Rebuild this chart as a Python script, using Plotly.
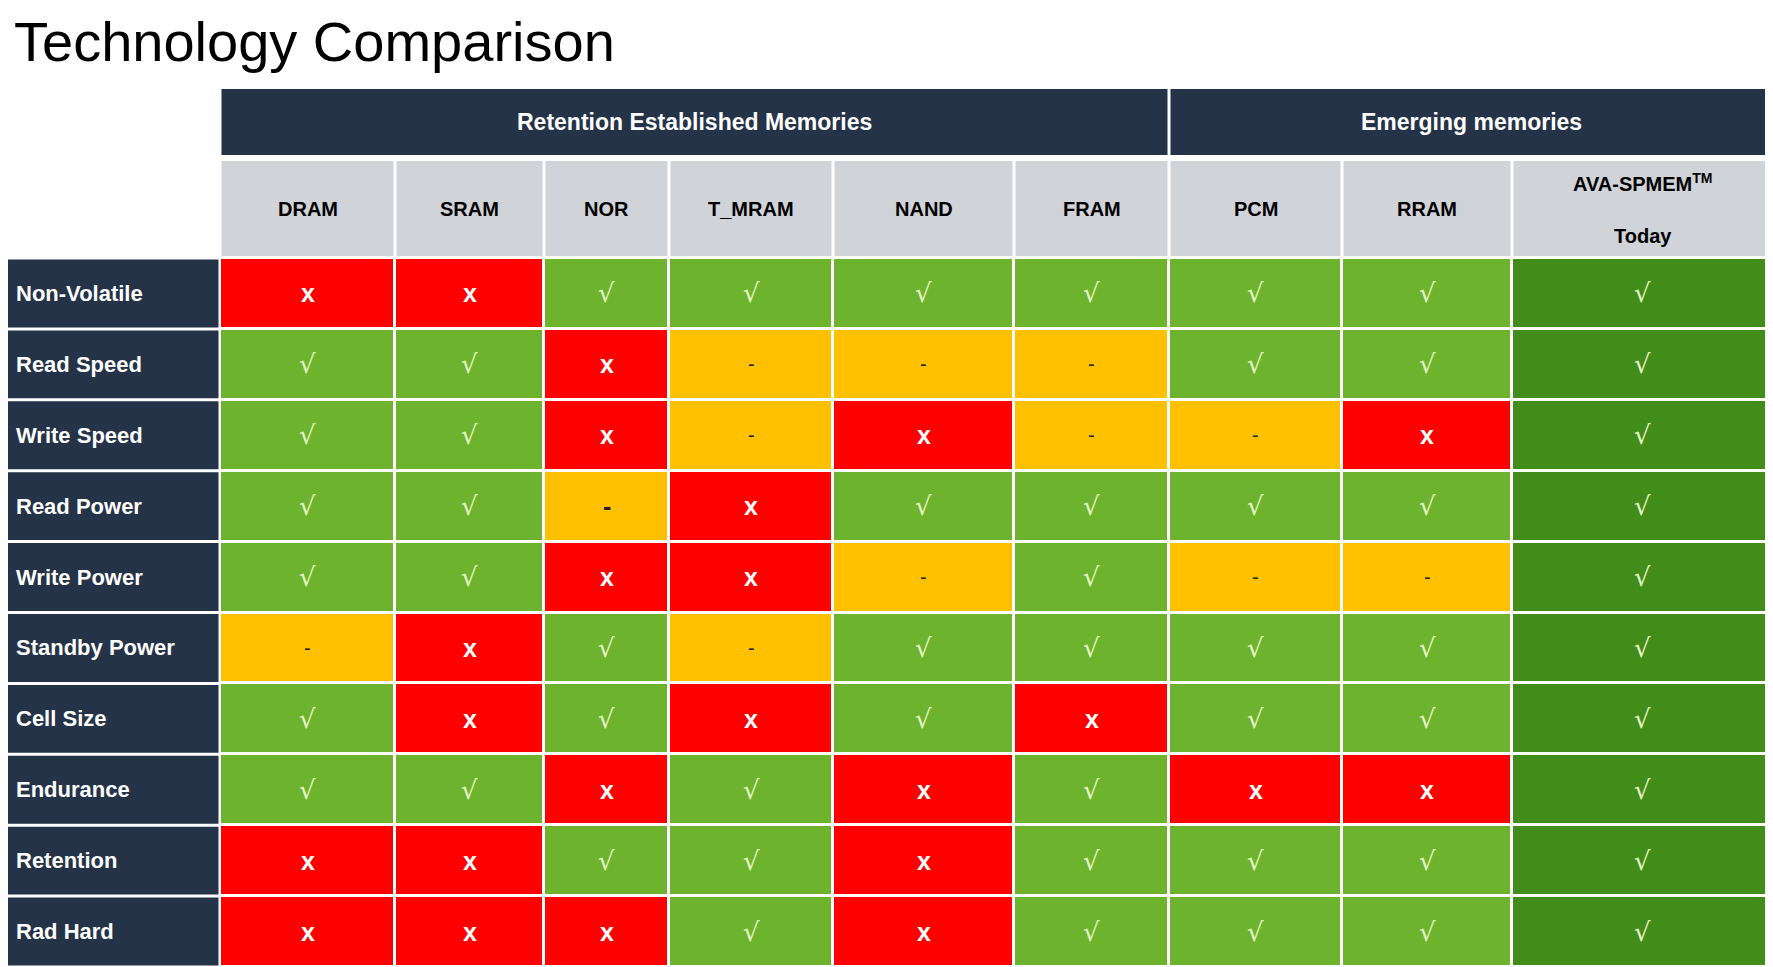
import plotly.graph_objects as go

# table content
groups = ["Retention Established Memories", "Emerging memories"]
group_span = [(0, 6), (6, 9)]
techs = ["DRAM", "SRAM", "NOR", "T_MRAM", "NAND", "FRAM", "PCM", "RRAM",
         "AVA-SPMEM<sup>TM</sup><br><br>Today"]
features = ["Non-Volatile", "Read Speed", "Write Speed", "Read Power", "Write Power",
            "Standby Power", "Cell Size", "Endurance", "Retention", "Rad Hard"]
# x = bad, - = partial, v = good
grid = [
    "xxvvvvvvv",
    "vvx---vvv",
    "vvx-x--xv",
    "vv-xvvvvv",
    "vvxx-v--v",
    "-xv-vvvvv",
    "vxvxvxvvv",
    "vvxvxvxxv",
    "xxvvxvvvv",
    "xxxvxvvvv",
]

# layout geometry (page pixels)
W, H = 1773, 967
OFF = 8  # page body margin
col_edges = [0, 220, 395, 544, 669, 833, 1014, 1169, 1342, 1512, 1773]
row_edges = [258 + i * 70.9 for i in range(11)]
hdr1 = (89, 155)
hdr2 = (161, 256)

RED, ORANGE, GREEN, DKGREEN = "#FF0000", "#FFC000", "#6DB32D", "#428C1A"
NAVY, GREY = "#253348", "#D0D3D8"

code = {"x": 0, "-": 1, "v": 2}
z = []
for row in grid:
    vals = [code[c] for c in row]
    vals[-1] = 3 if row[-1] == "v" else vals[-1]
    z.append(vals)

fig = go.Figure(go.Heatmap(
    x=col_edges[1:], y=row_edges, z=z,
    zmin=0, zmax=3, showscale=False, hoverinfo="skip",
    colorscale=[[0, RED], [0.25, RED], [0.25, ORANGE], [0.5, ORANGE],
                [0.5, GREEN], [0.75, GREEN], [0.75, DKGREEN], [1, DKGREEN]],
    xgap=3, ygap=3,
))

font = "Liberation Sans, Arial, sans-serif"
g = 1.5
shapes, ann = [], []

# row labels
for i, f in enumerate(features):
    y0, y1 = row_edges[i], row_edges[i + 1]
    shapes.append(dict(type="rect", x0=-20, x1=col_edges[1] - g, y0=y0 + g, y1=y1 - g,
                       fillcolor=NAVY, line_width=0, layer="below"))
    ann.append(dict(x=14, y=(y0 + y1) / 2, text=f, xanchor="left", showarrow=False,
                    font=dict(family=font, size=22, color="white", weight="bold")))

# group headers
for name, (a, b) in zip(groups, group_span):
    x0, x1 = col_edges[a + 1], col_edges[b + 1]
    shapes.append(dict(type="rect", x0=x0 + g, x1=x1 - g, y0=hdr1[0], y1=hdr1[1],
                       fillcolor=NAVY, line_width=0, layer="below"))
    ann.append(dict(x=(x0 + x1) / 2, y=sum(hdr1) / 2, text=name, showarrow=False,
                    font=dict(family=font, size=23, color="white", weight="bold")))

# column headers
for j, t in enumerate(techs):
    x0, x1 = col_edges[j + 1], col_edges[j + 2]
    shapes.append(dict(type="rect", x0=x0 + g, x1=x1 - g, y0=hdr2[0], y1=hdr2[1],
                       fillcolor=GREY, line_width=0, layer="below"))
    ann.append(dict(x=(x0 + x1) / 2, y=sum(hdr2) / 2, text=t, showarrow=False,
                    font=dict(family=font, size=20, color="black", weight="bold")))

# cell marks
for i, row in enumerate(grid):
    yc = (row_edges[i] + row_edges[i + 1]) / 2
    for j, c in enumerate(row):
        xc = (col_edges[j + 1] + col_edges[j + 2]) / 2
        if c == "x":
            t, f = "x", dict(family=font, size=25, color="white", weight="bold")
        elif c == "v":
            t, f = "√", dict(family="DejaVu Sans", size=26, color="#E4F3C4")
        else:
            bold = (i, j) == (3, 2)
            t, f = "-", dict(family=font, size=25 if bold else 20, color="#222222",
                             weight="bold" if bold else "normal")
        ann.append(dict(x=xc, y=yc, text=t, showarrow=False, font=f))

ann.append(dict(x=12, y=41, text="Technology Comparison", xanchor="left", showarrow=False,
                font=dict(family=font, size=56, color="black")))

fig.update_layout(
    width=W, height=H, margin=dict(l=0, r=0, t=0, b=0),
    plot_bgcolor="white", paper_bgcolor="white",
    xaxis=dict(range=[OFF, W + OFF], visible=False, fixedrange=True),
    yaxis=dict(range=[H + OFF, OFF], visible=False, fixedrange=True),
    shapes=shapes, annotations=ann,
)

fig.write_html("out.html", config={"displayModeBar": False})
